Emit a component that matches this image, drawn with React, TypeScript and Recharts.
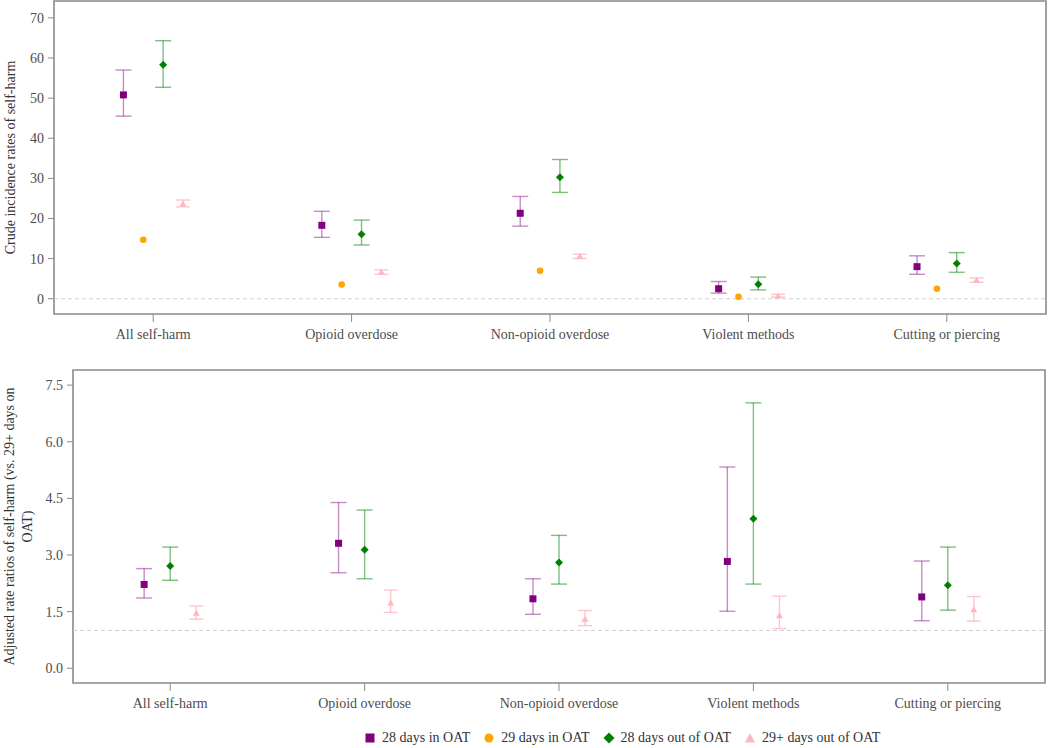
import { ComposedChart, Scatter, ErrorBar, XAxis, YAxis, ReferenceLine, ReferenceArea } from 'recharts';

const FONT = "'Liberation Serif', 'DejaVu Serif', serif";

const categories = ['All self-harm', 'Opioid overdose', 'Non-opioid overdose', 'Violent methods', 'Cutting or piercing'];

// crude incidence rates (top panel)
const crude28In = [50.8, 18.3, 21.3, 2.5, 8.0];
const crude28InLow = [45.5, 15.3, 18.1, 1.4, 6.1];
const crude28InHigh = [57.0, 21.8, 25.5, 4.3, 10.7];
const crude29In = [14.7, 3.55, 6.95, 0.5, 2.5];
const crude28Out = [58.3, 16.1, 30.3, 3.6, 8.8];
const crude28OutLow = [52.7, 13.4, 26.5, 2.2, 6.6];
const crude28OutHigh = [64.3, 19.6, 34.7, 5.4, 11.5];
const crude29Out = [23.6, 6.6, 10.6, 0.7, 4.6];
const crude29OutLow = [22.9, 6.1, 10.0, 0.4, 4.1];
const crude29OutHigh = [24.6, 7.2, 11.1, 1.1, 5.2];

// adjusted rate ratios (bottom panel)
const adj28In = [2.22, 3.31, 1.84, 2.83, 1.89];
const adj28InLow = [1.86, 2.53, 1.43, 1.51, 1.26];
const adj28InHigh = [2.64, 4.39, 2.37, 5.33, 2.84];
const adj28Out = [2.71, 3.14, 2.8, 3.96, 2.2];
const adj28OutLow = [2.33, 2.37, 2.23, 2.23, 1.54];
const adj28OutHigh = [3.21, 4.19, 3.52, 7.03, 3.21];
const adj29Out = [1.46, 1.73, 1.3, 1.39, 1.55];
const adj29OutLow = [1.3, 1.48, 1.13, 1.05, 1.25];
const adj29OutHigh = [1.65, 2.07, 1.53, 1.91, 1.9];

const crudeTicks = [0, 10, 20, 30, 40, 50, 60, 70];
const adjTicks = [0, 1.5, 3, 4.5, 6, 7.5];

const PURPLE = '#800080';
const ORANGE = '#FFA500';
const GREEN = '#008000';
const PINK = '#FFB6C1';

function points(means: number[], offset: number, lows?: number[], highs?: number[]) {
  return means.map((m, i) => ({
    x: i + offset,
    y: m,
    err: lows && highs ? [m - lows[i], highs[i] - m] : [0, 0],
  }));
}

const Square = (p: any) => <rect x={p.cx - 3.5} y={p.cy - 3.5} width={7} height={7} fill={PURPLE} />;
const Dot = (p: any) => <circle cx={p.cx} cy={p.cy} r={3.3} fill={ORANGE} />;
const Diamond = (p: any) => (
  <polygon points={`${p.cx},${p.cy - 4} ${p.cx + 4},${p.cy} ${p.cx},${p.cy + 4} ${p.cx - 4},${p.cy}`} fill={GREEN} />
);
const Triangle = (p: any) => (
  <polygon points={`${p.cx},${p.cy - 3.5} ${p.cx + 3.5},${p.cy + 2.5} ${p.cx - 3.5},${p.cy + 2.5}`} fill={PINK} />
);

const tickStyle = { fontSize: 14, fill: '#4d4d4d', fontFamily: FONT };
const frame = '#8a8a8a';

function xAxis() {
  return (
    <XAxis
      type="number"
      dataKey="x"
      domain={[-0.5, 4.5]}
      ticks={[0, 1, 2, 3, 4]}
      interval={0}
      height={36}
      tickFormatter={(v: number) => categories[v] ?? ''}
      tick={tickStyle}
      tickSize={8}
      tickMargin={7}
      tickLine={{ stroke: frame }}
      axisLine={false}
      allowDuplicatedCategory
    />
  );
}

const adjLabel = (props: any) => {
  const vb = props.viewBox || { y: 20, height: 313 };
  const cy = vb.y + vb.height / 2;
  return (
    <g>
      <text x={9} y={cy} transform={`rotate(-90, 9, ${cy})`} textAnchor="middle" dominantBaseline="central" fontSize={14} fill="#333" style={{ fontFamily: FONT }}>
        Adjusted rate ratios of self-harm (vs. 29+ days on
      </text>
      <text x={27} y={cy} transform={`rotate(-90, 27, ${cy})`} textAnchor="middle" dominantBaseline="central" fontSize={14} fill="#333" style={{ fontFamily: FONT }}>
        OAT)
      </text>
    </g>
  );
};

const legendItems = [
  { label: '28 days in OAT', icon: <rect x={1.5} y={1.5} width={9} height={9} fill={PURPLE} /> },
  { label: '29 days in OAT', icon: <circle cx={6} cy={6} r={4.5} fill={ORANGE} /> },
  { label: '28 days out of OAT', icon: <polygon points="6,0.5 11.5,6 6,11.5 0.5,6" fill={GREEN} /> },
  { label: '29+ days out of OAT', icon: <polygon points="6,1 11,10.5 1,10.5" fill={PINK} /> },
];

export default function App() {
  const crudeDomain = [-3.8, 74.2];
  const adjDomain = [-0.39, 7.9];
  return (
    <div style={{ position: 'absolute', left: 0, top: 0, width: 1050, height: 748, background: '#fff', fontFamily: FONT }}>
      <ComposedChart width={1050} height={350} margin={{ top: 1, right: 4, left: 0, bottom: 0 }} style={{ fontFamily: FONT }}>
        {xAxis()}
        <YAxis
          type="number"
          domain={crudeDomain}
          ticks={crudeTicks}
          interval={0}
          width={54}
          tick={tickStyle}
          tickSize={6}
          tickMargin={4}
          tickLine={{ stroke: frame }}
          axisLine={false}
          label={{
            value: 'Crude incidence rates of self-harm',
            angle: -90,
            position: 'insideLeft',
            offset: 10,
            style: { textAnchor: 'middle', fontSize: 14, fill: '#333', fontFamily: FONT },
          }}
        />
        <ReferenceArea x1={-0.5} x2={4.5} y1={crudeDomain[0]} y2={crudeDomain[1]} fill="none" stroke={frame} strokeWidth={1.6} />
        <ReferenceLine y={0} stroke="#d0d0d0" strokeDasharray="4 3" />
        <Scatter data={points(crude28In, -0.15, crude28InLow, crude28InHigh)} dataKey="y" shape={Square} isAnimationActive={false}>
          <ErrorBar dataKey="err" direction="y" width={8} stroke="rgba(128,0,128,0.45)" strokeWidth={1.4} />
        </Scatter>
        <Scatter data={points(crude29In, -0.05)} dataKey="y" shape={Dot} isAnimationActive={false} />
        <Scatter data={points(crude28Out, 0.05, crude28OutLow, crude28OutHigh)} dataKey="y" shape={Diamond} isAnimationActive={false}>
          <ErrorBar dataKey="err" direction="y" width={8} stroke="rgba(0,128,0,0.5)" strokeWidth={1.4} />
        </Scatter>
        <Scatter data={points(crude29Out, 0.15, crude29OutLow, crude29OutHigh)} dataKey="y" shape={Triangle} isAnimationActive={false}>
          <ErrorBar dataKey="err" direction="y" width={7} stroke="rgba(255,182,193,0.8)" strokeWidth={1.4} />
        </Scatter>
      </ComposedChart>
      <ComposedChart width={1050} height={369} margin={{ top: 20, right: 5, left: 0, bottom: 0 }} style={{ fontFamily: FONT }}>
        {xAxis()}
        <YAxis
          type="number"
          domain={adjDomain}
          ticks={adjTicks}
          interval={0}
          width={73}
          tick={tickStyle}
          tickSize={6}
          tickMargin={4}
          tickFormatter={(v: number) => v.toFixed(1)}
          tickLine={{ stroke: frame }}
          axisLine={false}
          label={adjLabel}
        />
        <ReferenceArea x1={-0.5} x2={4.5} y1={adjDomain[0]} y2={adjDomain[1]} fill="none" stroke={frame} strokeWidth={1.6} />
        <ReferenceLine y={1} stroke="#d0d0d0" strokeDasharray="4 3" />
        <Scatter data={points(adj28In, -0.134, adj28InLow, adj28InHigh)} dataKey="y" shape={Square} isAnimationActive={false}>
          <ErrorBar dataKey="err" direction="y" width={8} stroke="rgba(128,0,128,0.45)" strokeWidth={1.4} />
        </Scatter>
        <Scatter data={points(adj28Out, 0, adj28OutLow, adj28OutHigh)} dataKey="y" shape={Diamond} isAnimationActive={false}>
          <ErrorBar dataKey="err" direction="y" width={8} stroke="rgba(0,128,0,0.5)" strokeWidth={1.4} />
        </Scatter>
        <Scatter data={points(adj29Out, 0.134, adj29OutLow, adj29OutHigh)} dataKey="y" shape={Triangle} isAnimationActive={false}>
          <ErrorBar dataKey="err" direction="y" width={7} stroke="rgba(255,182,193,0.8)" strokeWidth={1.4} />
        </Scatter>
      </ComposedChart>
      <div style={{ position: 'absolute', left: 364, top: 730, display: 'flex', alignItems: 'center', fontSize: 14, color: '#333', fontFamily: FONT }}>
        {legendItems.map((it) => (
          <div key={it.label} style={{ display: 'flex', alignItems: 'center', marginRight: 13 }}>
            <svg width={12} height={12} style={{ marginRight: 6 }}>
              {it.icon}
            </svg>
            <span>{it.label}</span>
          </div>
        ))}
      </div>
    </div>
  );
}
